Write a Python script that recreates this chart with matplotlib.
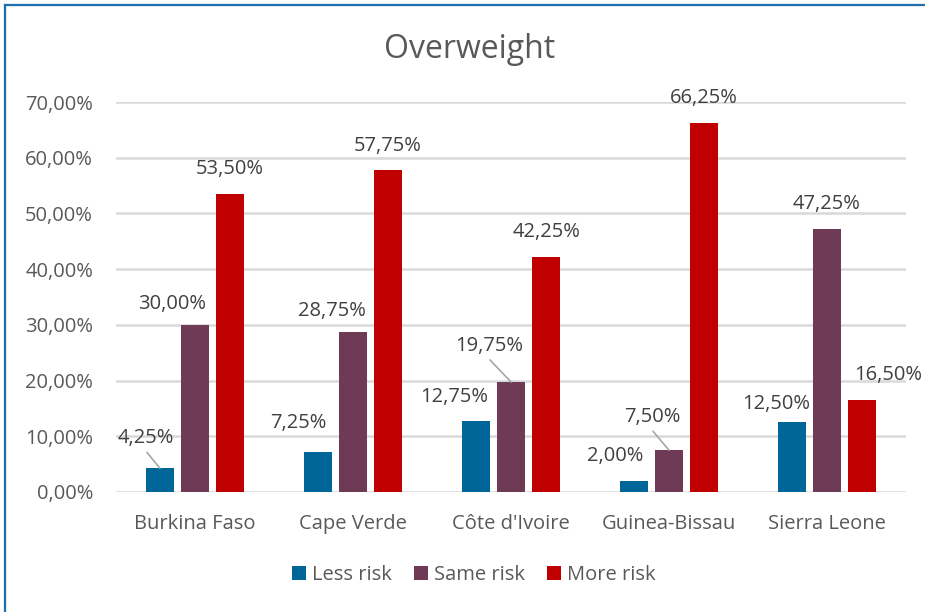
import matplotlib
matplotlib.use("Agg")
import numpy as np
import matplotlib.pyplot as plt
from matplotlib.lines import Line2D

plt.rcParams['font.family'] = ['Open Sans', 'DejaVu Sans']

countries = ["Burkina Faso", "Cape Verde", "Côte d'Ivoire", "Guinea-Bissau", "Sierra Leone"]
less_risk = [4.25, 7.25, 12.75, 2.00, 12.50]
same_risk = [30.00, 28.75, 19.75, 7.50, 47.25]
more_risk = [53.50, 57.75, 42.25, 66.25, 16.50]
series_names = ["Less risk", "Same risk", "More risk"]
colors = ["#006699", "#6F3A55", "#C00000"]

# label nudges in pixels (dx, dy up) relative to bar top centre, like Excel auto placement
nudges = [
    [(-14, 30), (-20, 29), (-22, 24), (-19, 25), (-16, 18)],
    [(-23, 21), (-21, 21), (-22, 36), (-17, 33), (0, 25)],
    [(0, 25), (0, 24), (0, 25), (0, 25), (26, 25)],
]
leaders = {(0, 0), (1, 2), (1, 3)}

fig = plt.figure(figsize=(9.25, 6.12), dpi=100)
ax = fig.add_axes([116 / 925, 1 - 492 / 612, 790 / 925, 390 / 612])

x = np.arange(len(countries))
width = 0.177
step = 0.222
text_col = "#404040"
tick_col = "#595959"
fs = 14.5

for i, vals in enumerate([less_risk, same_risk, more_risk]):
    pos = x + (i - 1) * step
    ax.bar(pos, vals, width, color=colors[i], label=series_names[i], zorder=3)
    for j, v in enumerate(vals):
        dx, dy = nudges[i][j]
        lab = f"{v:.2f}%".replace(".", ",")
        ax.annotate(lab, (pos[j], v), xytext=(dx, dy), textcoords='offset pixels',
                    ha='center', va='center', fontsize=fs, color=text_col, zorder=5)
        if (i, j) in leaders:
            ax.annotate("", (pos[j], v), xytext=(dx + 1, dy - 14), textcoords='offset pixels',
                        arrowprops=dict(arrowstyle='-', color='#A6A6A6', lw=1.2,
                                        shrinkA=0, shrinkB=0), zorder=4)

ax.set_xlim(-0.5, len(countries) - 0.5)
ax.set_ylim(0, 70)
ax.set_yticks(np.arange(0, 71, 10))
ax.set_yticklabels([f"{t:.2f}%".replace(".", ",") for t in np.arange(0, 71, 10)])
ax.set_xticks(x)
ax.set_xticklabels(countries)
ax.tick_params(axis='both', length=0, labelsize=fs, colors=tick_col)
ax.tick_params(axis='y', pad=16.5)
ax.tick_params(axis='x', pad=16)
ax.grid(axis='y', color='#D9D9D9', lw=1.8, zorder=0)
for s in ax.spines.values():
    s.set_visible(False)

fig.text(470 / 925, 1 - 49 / 612, "Overweight", ha='center', va='center',
         fontsize=23, color=tick_col)

leg = fig.legend(loc='center', bbox_to_anchor=(474 / 925, 1 - 575 / 612), ncol=3,
                 frameon=False, fontsize=fs, handlelength=0.7, handleheight=0.7,
                 handletextpad=0.3, columnspacing=1.1)
for t in leg.get_texts():
    t.set_color(tick_col)

# chart frame: only left and top edges show in the reference crop
border = '#1F6DAA'
fig.lines.append(Line2D([4.5 / 925, 4.5 / 925], [0, 1 - 4.5 / 612], transform=fig.transFigure,
                        color=border, lw=1.6))
fig.lines.append(Line2D([4.5 / 925, 1], [1 - 4.5 / 612, 1 - 4.5 / 612], transform=fig.transFigure,
                        color=border, lw=1.6))

fig.savefig("out.png", dpi=100)
